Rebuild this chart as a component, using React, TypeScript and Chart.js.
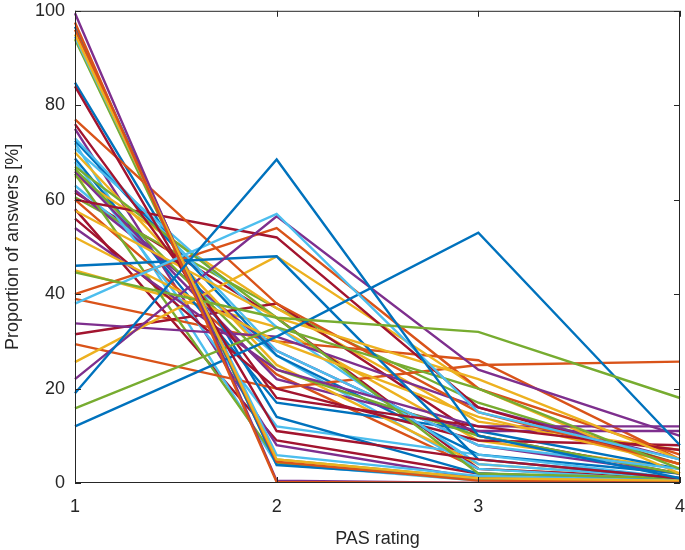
import React, { useEffect, useRef } from "react";
import { Chart, registerables } from "chart.js";

Chart.register(...registerables);

const xLabels = ["1", "2", "3", "4"];
const yTicks = [0, 20, 40, 60, 80, 100];

// Each row = one respondent group: proportion at PAS rating 1,2,3,4 (by colour group)
const blueLines = [
  [19, 68.5, 10, 1],
  [12, 31, 53, 8],
  [46, 48, 5, 1],
  [96.6, 3.8, 1, 0.3],
  [84.8, 14, 2, 0.5],
  [72.5, 27, 6, 2],
  [68.7, 17, 11, 3],
];
const orangeLines = [
  [97.5, 0.2, 0, 0],
  [96, 4.5, 0.5, 0.2],
  [77, 38, 15, 4],
  [40, 54, 20, 6],
  [29.4, 20, 25, 25.7],
  [39, 30, 26, 5],
  [60, 23, 3, 1],
];
const yellowLines = [
  [95, 5, 1, 0.5],
  [57.7, 35, 22, 5],
  [52, 30, 14, 4],
  [25.6, 48, 20, 2],
  [70, 25, 4, 1],
  [65, 37, 13, 7],
  [45, 33, 9, 3],
];
const purpleLines = [
  [99.5, 0.5, 0, 0],
  [22, 56.5, 24, 10],
  [54, 24, 12, 12],
  [33.8, 31, 16, 5],
  [66, 22, 11, 11],
  [62, 28, 8, 2],
  [75, 8, 1, 0.5],
];
const greenLines = [
  [44.6, 35, 32, 18],
  [15.8, 33, 20, 3],
  [67, 35, 2, 1],
  [66.5, 24, 10, 2],
  [65.5, 5, 1, 0.5],
  [60.5, 37, 17, 4],
  [94, 4.2, 1, 0.3],
];
const cyanLines = [
  [38, 57, 15, 5],
  [94.5, 5.9, 1.5, 0.5],
  [73, 28, 8, 3],
  [70.8, 33, 4, 1],
  [68, 12, 6, 1],
  [63, 27, 3, 0.5],
  [72, 4, 0.5, 0.2],
];
const darkRedLines = [
  [84, 11, 5, 1],
  [76, 18, 12, 7],
  [60, 52, 16, 4],
  [56, 20, 9, 8],
  [31.5, 38, 10, 2],
  [61.5, 35, 3, 1],
  [58, 9, 2, 0.5],
];

const groups = [blueLines, orangeLines, yellowLines, purpleLines, greenLines, cyanLines, darkRedLines];
const palette = ["#0072BD", "#D95319", "#EDB120", "#7E2F8E", "#77AC30", "#4DBEEE", "#A2142F"];

const AXIS = "#262626";
const FONT = "'Liberation Sans', Arial, Helvetica, sans-serif";

const boxPlugin = {
  id: "matlabBox",
  afterDraw(chart: any) {
    const { ctx, chartArea } = chart;
    const { left, right, top, bottom } = chartArea;
    const xs = chart.scales.x;
    const ys = chart.scales.y;
    ctx.save();
    ctx.strokeStyle = AXIS;
    ctx.lineWidth = 1;
    ctx.strokeRect(left + 0.5, top + 0.5, right - left - 1, bottom - top - 1);
    const tl = 6;
    ctx.beginPath();
    xs.ticks.forEach((_t: any, i: number) => {
      const px = Math.round(xs.getPixelForTick(i)) + 0.5;
      ctx.moveTo(px, bottom);
      ctx.lineTo(px, bottom - tl);
      ctx.moveTo(px, top);
      ctx.lineTo(px, top + tl);
    });
    ys.ticks.forEach((t: any) => {
      const py = Math.round(ys.getPixelForValue(t.value)) + 0.5;
      ctx.moveTo(left, py);
      ctx.lineTo(left + tl, py);
      ctx.moveTo(right, py);
      ctx.lineTo(right - tl, py);
    });
    ctx.stroke();
    ctx.restore();
  },
};

export default function App() {
  const ref = useRef<HTMLCanvasElement | null>(null);
  useEffect(() => {
    if (!ref.current) return;
    const datasets: any[] = [];
    for (let r = 0; r < 7; r++) {
      for (let g = 0; g < groups.length; g++) {
        const row = groups[g][r];
        if (!row) continue;
        datasets.push({
          data: row,
          borderColor: palette[g],
          backgroundColor: palette[g],
          borderWidth: 2.4,
          pointRadius: 0,
          tension: 0,
          fill: false,
        });
      }
    }
    const chart = new Chart(ref.current, {
      type: "line",
      data: { labels: xLabels, datasets },
      options: {
        animation: false,
        responsive: false,
        maintainAspectRatio: false,
        layout: { padding: { left: 0, right: 0, top: 0, bottom: 0 } },
        plugins: { legend: { display: false }, tooltip: { enabled: false } },
        scales: {
          x: {
            offset: false,
            grid: { display: false, drawTicks: false },
            border: { display: false },
            ticks: { color: AXIS, font: { family: FONT, size: 18 }, padding: 13, maxRotation: 0 },
            title: { display: true, text: "PAS rating", color: AXIS, font: { family: FONT, size: 18 }, padding: { top: 4, bottom: 0 } },
            afterFit: (s: any) => { s.height = 67; },
          },
          y: {
            min: 0,
            max: 100,
            afterBuildTicks: (s: any) => { s.ticks = yTicks.map((v) => ({ value: v })); },
            grid: { display: false, drawTicks: false },
            border: { display: false },
            ticks: { color: AXIS, font: { family: FONT, size: 18 }, padding: 10 },
            title: { display: true, text: "Proportion of answers [%]", color: AXIS, font: { family: FONT, size: 18 }, padding: { top: 2, bottom: 6 } },
            afterFit: (s: any) => { s.width = 75; },
          },
        },
      },
      plugins: [boxPlugin],
    });
    return () => chart.destroy();
  }, []);
  return (
    <div style={{ position: "fixed", left: 0, top: 0, width: 685, height: 550, background: "#fff", overflow: "hidden" }}>
      <canvas ref={ref} width={698} height={560} style={{ width: 698, height: 560, display: "block", marginTop: -10 }} />
    </div>
  );
}
